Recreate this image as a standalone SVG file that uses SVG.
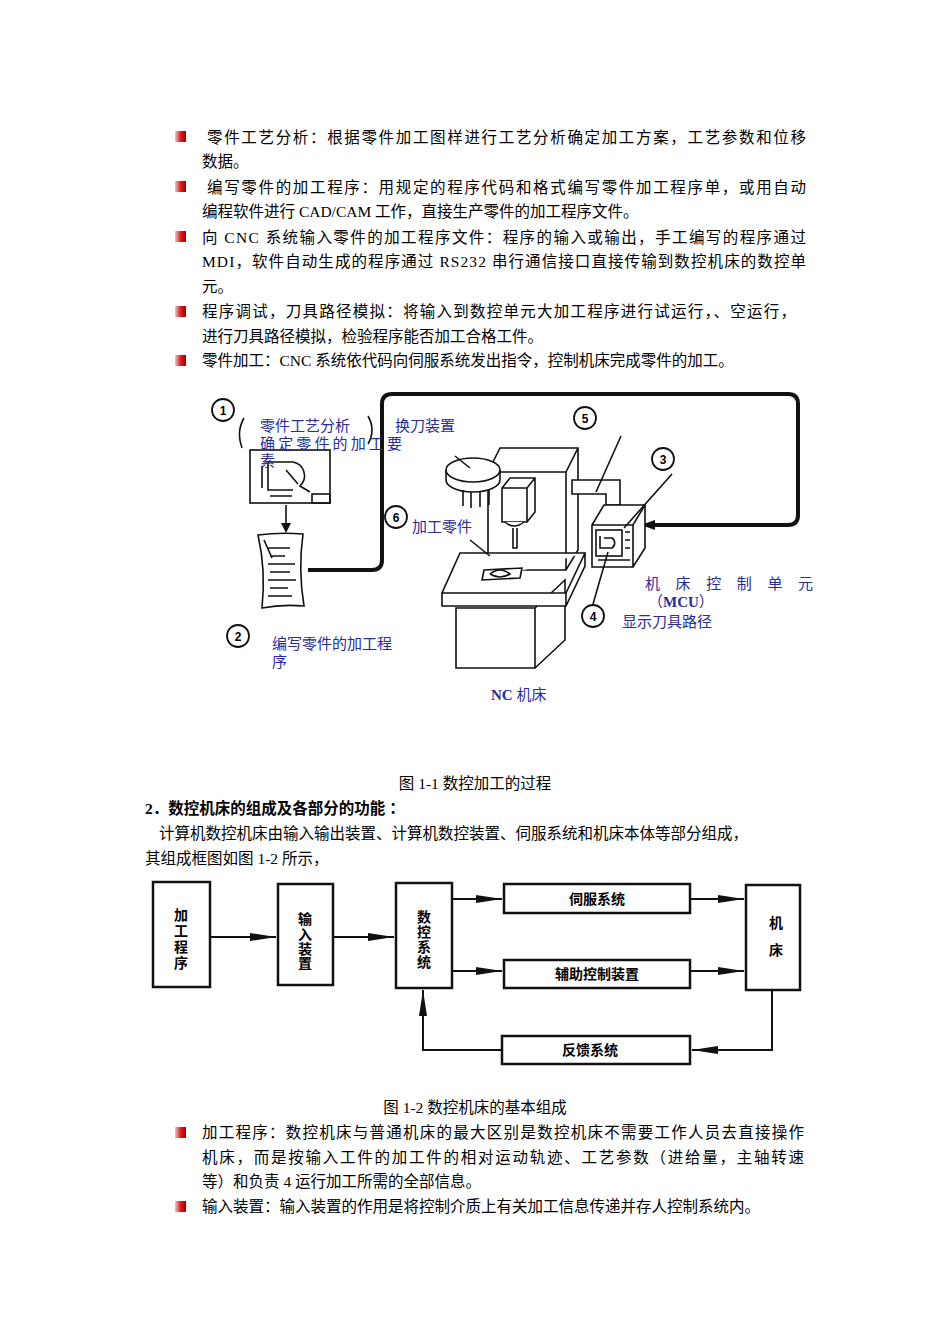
<svg xmlns="http://www.w3.org/2000/svg" width="950" height="1344" viewBox="0 0 950 1344">
<style>
.t{font-family:"Liberation Serif","Noto Sans CJK SC",serif;font-size:15.5px;fill:#000}
.b{font-family:"Liberation Serif","Noto Sans CJK SC",serif;font-size:15px;fill:#2b2b9a}
.k{font-family:"Liberation Sans","Noto Sans CJK SC",sans-serif;font-size:14px;font-weight:bold;fill:#000}
.s{fill:none;stroke:#111;stroke-width:1.6}
.w{fill:#fff;stroke:#111;stroke-width:1.6}
.n{fill:#fff;stroke:#111;stroke-width:1.8}
.nt{font-family:"Liberation Sans",sans-serif;font-size:12px;font-weight:bold;text-anchor:middle}
.bx{fill:#fff;stroke:#111;stroke-width:2.5}
.ln{fill:none;stroke:#111;stroke-width:2}
</style>
<defs>
<linearGradient id="bul" x1="0" y1="0" x2="1" y2="0"><stop offset="0" stop-color="#f7c0c0"/><stop offset="0.5" stop-color="#e02020"/><stop offset="1" stop-color="#900"/></linearGradient>
<symbol id="bu" viewBox="0 0 11 11"><rect width="11" height="11" fill="url(#bul)"/></symbol>
<marker id="ah" markerWidth="26" markerHeight="10" refX="26" refY="5" orient="auto" markerUnits="userSpaceOnUse"><path d="M0,1 L26,5 L0,9 Z" fill="#111"/></marker>
<marker id="ah2" markerWidth="14" markerHeight="10" refX="13" refY="5" orient="auto" markerUnits="userSpaceOnUse"><path d="M0,0 L14,5 L0,10 Z" fill="#111"/></marker>
</defs>

<g id="bullets-top">
<use href="#bu" x="175" y="131" width="11" height="11"/>
<use href="#bu" x="175" y="181" width="11" height="11"/>
<use href="#bu" x="175" y="231" width="11" height="11"/>
<use href="#bu" x="175" y="306" width="11" height="11"/>
<use href="#bu" x="175" y="355" width="11" height="11"/>
<text class="t" x="207" y="143" textLength="599">零件工艺分析：根据零件加工图样进行工艺分析确定加工方案，工艺参数和位移</text>
<text class="t" x="202" y="167">数据。</text>
<text class="t" x="207" y="193" textLength="599">编写零件的加工程序：用规定的程序代码和格式编写零件加工程序单，或用自动</text>
<text class="t" x="202" y="217">编程软件进行 CAD/CAM 工作，直接生产零件的加工程序文件。</text>
<text class="t" x="202" y="243" textLength="604">向 CNC 系统输入零件的加工程序文件：程序的输入或输出，手工编写的程序通过</text>
<text class="t" x="202" y="267" textLength="604">MDI，软件自动生成的程序通过 RS232 串行通信接口直接传输到数控机床的数控单</text>
<text class="t" x="202" y="292">元。</text>
<text class="t" x="202" y="317" textLength="594">程序调试，刀具路径模拟：将输入到数控单元大加工程序进行试运行，、空运行，</text>
<text class="t" x="202" y="342">进行刀具路径模拟，检验程序能否加工合格工件。</text>
<text class="t" x="202" y="366">零件加工：CNC 系统依代码向伺服系统发出指令，控制机床完成零件的加工。</text>
</g>

<g id="fig1">
<g id="loop"><path d="M308,570 L372,570 Q382,570 382,560 L382,404 Q382,394 392,394 L788,394 Q798,394 798,404 L798,515 Q798,525 788,525 L642,525" fill="none" stroke="#111" stroke-width="4" marker-end="url(#ah2)"/></g>
<g id="drawing"><rect class="w" x="250" y="450" width="80" height="53"/><rect class="s" x="312" y="494" width="18" height="9"/>
<path class="s" d="M268,462 L268,490 L293,490 M268,462 L293,462 A14,14 0 0 1 300,486 L310,492 M262,466 L262,488 M270,496 L292,496 M286,470 L298,484"/>
<path class="s" d="M286,505 L286,527"/><path d="M281,523 L286,533 L291,523 Z" fill="#111"/></g>
<g id="paper"><path class="w" d="M258,535 Q280,532 303,534 Q298,570 304,606 Q282,604 262,608 Q266,570 258,535 Z"/>
<path class="s" d="M264,540 L272,558 M268,548 L290,548 M270,556 L285,556 M268,564 L295,564 M270,572 L290,572 M268,580 L296,580 M270,588 L288,588 M268,596 L292,596"/></g>
<g id="machine">
<path class="w" d="M456,608 L535,608 L535,668 L456,668 Z M535,608 L565,580 L565,640 L535,668"/>
<path class="w" d="M488,472 L500,448 L578,448 L578,550 L566,570 L488,570 Z M488,472 L566,472 L578,448 M566,472 L566,570"/>
<path class="w" d="M502,488 L510,478 L535,478 L535,512 L527,522 L502,522 Z M502,488 L527,488 L535,478 M527,488 L527,522"/>
<path class="w" d="M505,522 Q514,530 524,522 M513,528 L513,548 L517,548 L517,528"/>
<path class="w" d="M446,470 L446,480 A27,12 0 0 0 500,480 L500,470"/><ellipse class="w" cx="473" cy="470" rx="27" ry="12"/>
<path class="s" d="M463,490 L463,506 M471,492 L471,508 M480,492 L480,507 M489,490 L489,505 M455,456 L470,468"/>
<path class="w" d="M460,553 L585,553 L566,593 L442,593 Z M442,593 L442,606 L566,606 L585,566 L585,553 M566,593 L566,606"/>
<path class="w" d="M484,570 L522,568 L520,578 L482,580 Z"/><path class="s" d="M490,574 Q500,566 510,574 Q500,580 490,574 M470,540 L490,556"/>
<path class="w" d="M572,480 L620,480 L620,505 L606,505 L606,494 L572,494 Z"/>
<path class="w" d="M592,525 L604,505 L645,505 L645,548 L633,567 L592,567 Z M592,525 L633,525 L645,505 M633,525 L633,567"/>
<rect class="s" x="596" y="530" width="26" height="26"/><path class="s" d="M600,536 L600,548 L612,548 A6,6 0 0 0 612,538 L604,538"/>
<path class="s" d="M598,560 L630,560 M625,532 L630,532 M625,540 L630,540 M625,548 L630,548"/>
<path class="s" d="M621,436 L596,492 M672,474 L624,528 M593,604 L608,552"/>
</g>
<g id="callouts">
<circle class="n" cx="223" cy="410" r="11"/><text class="nt" x="223" y="415">1</text>
<circle class="n" cx="238" cy="636" r="11"/><text class="nt" x="238" y="641">2</text>
<circle class="n" cx="663" cy="459" r="11"/><text class="nt" x="663" y="464">3</text>
<circle class="n" cx="593" cy="616" r="11"/><text class="nt" x="593" y="621">4</text>
<circle class="n" cx="585" cy="418" r="11"/><text class="nt" x="585" y="423">5</text>
<circle class="n" cx="396" cy="517" r="11"/><text class="nt" x="396" y="522">6</text>
<path class="s" d="M244,418 Q236,432 242,448 M368,416 Q376,430 368,444"/>
</g>
<g id="labels">
<text class="b" x="260" y="431">零件工艺分析</text>
<text class="b" x="260" y="449" textLength="142">确定零件的加工要</text>
<text class="b" x="260" y="466">素</text>
<text class="b" x="395" y="431">换刀装置</text>
<text class="b" x="412" y="532">加工零件</text>
<text class="b" x="645" y="589" textLength="168">机床控制单元</text>
<text class="b" x="648" y="607">（<tspan font-weight="bold">MCU</tspan>）</text>
<text class="b" x="622" y="627">显示刀具路径</text>
<text class="b" x="272" y="649">编写零件的加工程</text>
<text class="b" x="272" y="667">序</text>
<text class="b" x="491" y="700"><tspan font-weight="bold">NC</tspan> 机床</text>
</g>
</g>

<text class="t" x="475" y="789" text-anchor="middle">图 1-1 数控加工的过程</text>
<text class="t" x="145" y="814" font-weight="bold">2．数控机床的组成及各部分的功能 ：</text>
<text class="t" x="159" y="839">计算机数控机床由输入输出装置、计算机数控装置、伺服系统和机床本体等部分组成，</text>
<text class="t" x="145" y="864">其组成框图如图 1-2 所示，</text>

<g id="fig2">
<g id="connectors">
<line class="ln" x1="210" y1="937" x2="276" y2="937" marker-end="url(#ah)"/>
<line class="ln" x1="333" y1="937" x2="394" y2="937" marker-end="url(#ah)"/>
<line class="ln" x1="452" y1="899" x2="502" y2="899" marker-end="url(#ah)"/>
<line class="ln" x1="452" y1="971" x2="502" y2="971" marker-end="url(#ah)"/>
<line class="ln" x1="690" y1="899" x2="744" y2="899" marker-end="url(#ah)"/>
<line class="ln" x1="690" y1="971" x2="744" y2="971" marker-end="url(#ah)"/>
<polyline class="ln" points="772,990 772,1050 692,1050" marker-end="url(#ah)"/>
<polyline class="ln" points="502,1050 423,1050 423,990" marker-end="url(#ah)"/>
</g>
<g id="n1"><rect class="bx" x="153" y="882" width="57" height="105"/><text class="k" x="181" y="920" text-anchor="middle">加</text><text class="k" x="181" y="936" text-anchor="middle">工</text><text class="k" x="181" y="952" text-anchor="middle">程</text><text class="k" x="181" y="968" text-anchor="middle">序</text></g>
<g id="n2"><rect class="bx" x="278" y="884" width="55" height="101"/><text class="k" x="305" y="924" text-anchor="middle">输</text><text class="k" x="305" y="940" text-anchor="middle">入</text><text class="k" x="305" y="954" text-anchor="middle">装</text><text class="k" x="305" y="968" text-anchor="middle">置</text></g>
<g id="n3"><rect class="bx" x="396" y="883" width="56" height="105"/><text class="k" x="424" y="922" text-anchor="middle">数</text><text class="k" x="424" y="937" text-anchor="middle">控</text><text class="k" x="424" y="952" text-anchor="middle">系</text><text class="k" x="424" y="967" text-anchor="middle">统</text></g>
<g id="n4"><rect class="bx" x="504" y="884" width="186" height="29"/><text class="k" x="597" y="904" text-anchor="middle">伺服系统</text></g>
<g id="n5"><rect class="bx" x="504" y="960" width="186" height="28"/><text class="k" x="597" y="979" text-anchor="middle">辅助控制装置</text></g>
<g id="n6"><rect class="bx" x="746" y="885" width="54" height="105"/><text class="k" x="776" y="928" text-anchor="middle">机</text><text class="k" x="776" y="955" text-anchor="middle">床</text></g>
<g id="n7"><rect class="bx" x="502" y="1036" width="188" height="28"/><text class="k" x="590" y="1055" text-anchor="middle">反馈系统</text></g>
</g>

<text class="t" x="475" y="1113" text-anchor="middle">图 1-2 数控机床的基本组成</text>
<g id="bullets-bottom">
<use href="#bu" x="175" y="1127" width="11" height="11"/>
<use href="#bu" x="175" y="1201" width="11" height="11"/>
<text class="t" x="202" y="1138" textLength="602">加工程序：数控机床与普通机床的最大区别是数控机床不需要工作人员去直接操作</text>
<text class="t" x="202" y="1163" textLength="602">机床，而是按输入工件的加工件的相对运动轨迹、工艺参数（进给量，主轴转速</text>
<text class="t" x="202" y="1187">等）和负责 4 运行加工所需的全部信息。</text>
<text class="t" x="202" y="1212">输入装置：输入装置的作用是将控制介质上有关加工信息传递并存人控制系统内。</text>
</g>
</svg>
